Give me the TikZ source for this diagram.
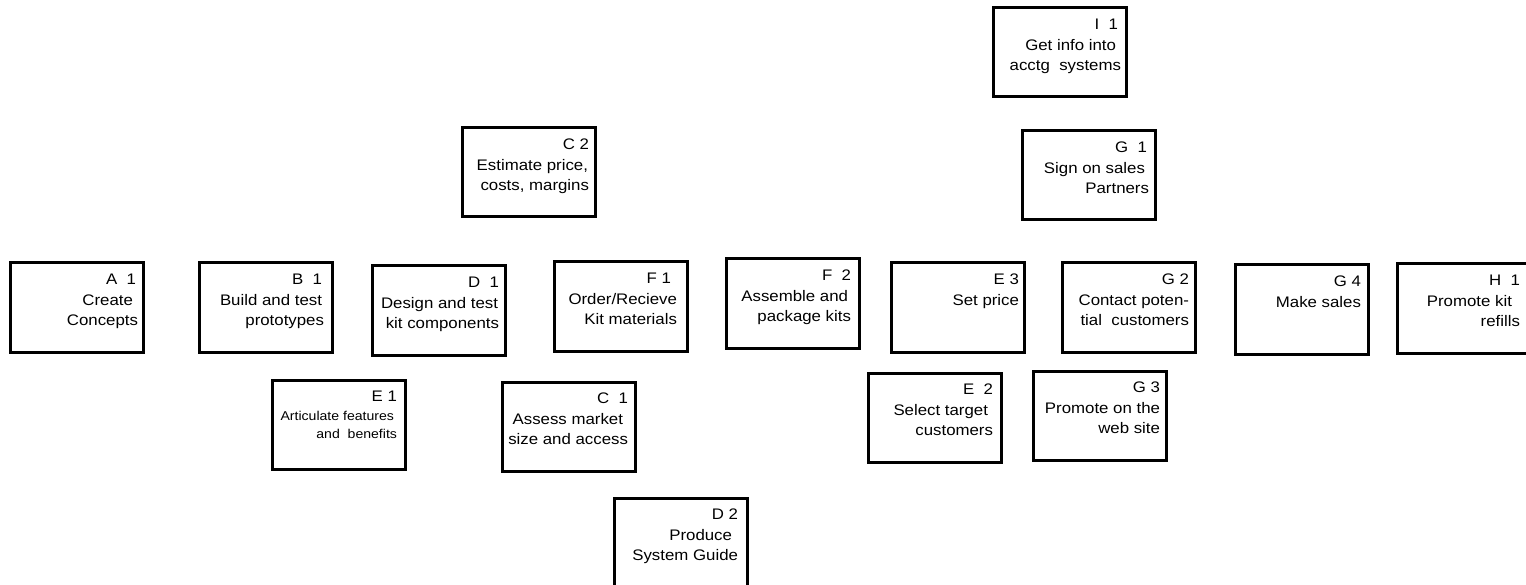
\documentclass[tikz,border=0pt]{standalone}
\usepackage{fontspec}
\setmainfont{Liberation Sans}[FakeStretch=1.1]
\newcommand\tsp[1]{\kern#1pt}
\begin{document}
\begin{tikzpicture}[x=1pt,y=-1pt,
  taskbox/.style={draw=black, line width=3pt, minimum width=133pt, minimum height=89pt, inner sep=0pt, outer sep=0pt, anchor=north west},
  tasktext/.style={anchor=north east, align=right, inner sep=0pt, outer sep=0pt, font=\fontsize{15.3}{20.5}\selectfont},
  smalltext/.style={font=\fontsize{15.3}{18.5}\selectfont}
]
\useasboundingbox (0,0) rectangle (1526,585);
\clip (0,0) rectangle (1526,585);

% top row
\node[taskbox] (A1) at (10,263) {};
\node[tasktext] (A1t) at ([xshift=-5pt,yshift=-11pt]A1.north east) {A~~1\tsp{2}\\Create\tsp{5}\\Concepts};

\node[taskbox] (B1) at (199,263) {};
\node[tasktext] (B1t) at ([xshift=-8pt,yshift=-11pt]B1.north east) {B~~1\tsp{2}\\Build and test\tsp{2}\\prototypes};

\node[taskbox] (D1) at (372,266) {};
\node[tasktext] (D1t) at ([xshift=-6pt,yshift=-11pt]D1.north east) {D~~1\\Design and test\tsp{1}\\kit components};

\node[taskbox] (F1) at (554,262) {};
\node[tasktext] (F1t) at ([xshift=-10pt,yshift=-11pt]F1.north east) {F~1\tsp{6}\\Order/Recieve\\Kit materials};

\node[taskbox] (F2) at (726,259) {};
\node[tasktext] (F2t) at ([xshift=-8pt,yshift=-11pt]F2.north east) {F~~2\\Assemble and\tsp{3}\\package kits};

\node[taskbox] (E3) at (891,263) {};
\node[tasktext] (E3t) at ([xshift=-5pt,yshift=-11pt]E3.north east) {E~3\\Set price};

\node[taskbox] (G2) at (1062,263) {};
\node[tasktext] (G2t) at ([xshift=-6pt,yshift=-11pt]G2.north east) {G~2\\Contact poten-\\tial~~customers};

\node[taskbox] (G4) at (1235,265) {};
\node[tasktext] (G4t) at ([xshift=-7pt,yshift=-11pt]G4.north east) {G~4\\Make sales};

\node[taskbox] (H1) at (1397,264) {};
\node[tasktext] (H1t) at ([xshift=-10pt,yshift=-11pt]H1.north east) {H~~1\\Promote kit\tsp{8}\\refills};

% upper boxes
\node[taskbox] (I1) at (993,8) {};
\node[tasktext] (I1t) at ([xshift=-5pt,yshift=-11pt]I1.north east) {I~~1\tsp{3}\\Get info into\tsp{5}\\acctg~~systems};

\node[taskbox] (G1) at (1022,131) {};
\node[tasktext] (G1t) at ([xshift=-6pt,yshift=-11pt]G1.north east) {G~~1\tsp{2}\\Sign on sales\tsp{4}\\Partners};

\node[taskbox] (C2) at (462,128) {};
\node[tasktext] (C2t) at ([xshift=-6pt,yshift=-11pt]C2.north east) {C~2\\Estimate price,\tsp{1}\\costs, margins};

% lower boxes
\node[taskbox] (E1) at (272,380) {};
\node[tasktext,smalltext] (E1t) at ([xshift=-8pt,yshift=-11pt]E1.north east) {E~1\\\fontsize{12.8}{18.5}\selectfont Articulate features\tsp{3}\\\fontsize{12.8}{18.5}\selectfont and~~benefits};

\node[taskbox] (C1) at (502,382) {};
\node[tasktext] (C1t) at ([xshift=-7pt,yshift=-11pt]C1.north east) {C~~1\\Assess market\tsp{5}\\size and access};

\node[taskbox] (D2) at (614,498) {};
\node[tasktext] (D2t) at ([xshift=-9pt,yshift=-11pt]D2.north east) {D~2\\Produce\tsp{6}\\System Guide};

\node[taskbox] (E2) at (868,373) {};
\node[tasktext] (E2t) at ([xshift=-8pt,yshift=-11pt]E2.north east) {E~~2\\Select target\tsp{5}\\customers};

\node[taskbox] (G3) at (1033,371) {};
\node[tasktext] (G3t) at ([xshift=-6pt,yshift=-11pt]G3.north east) {G~3\\Promote on the\\web site};
\end{tikzpicture}
\end{document}
